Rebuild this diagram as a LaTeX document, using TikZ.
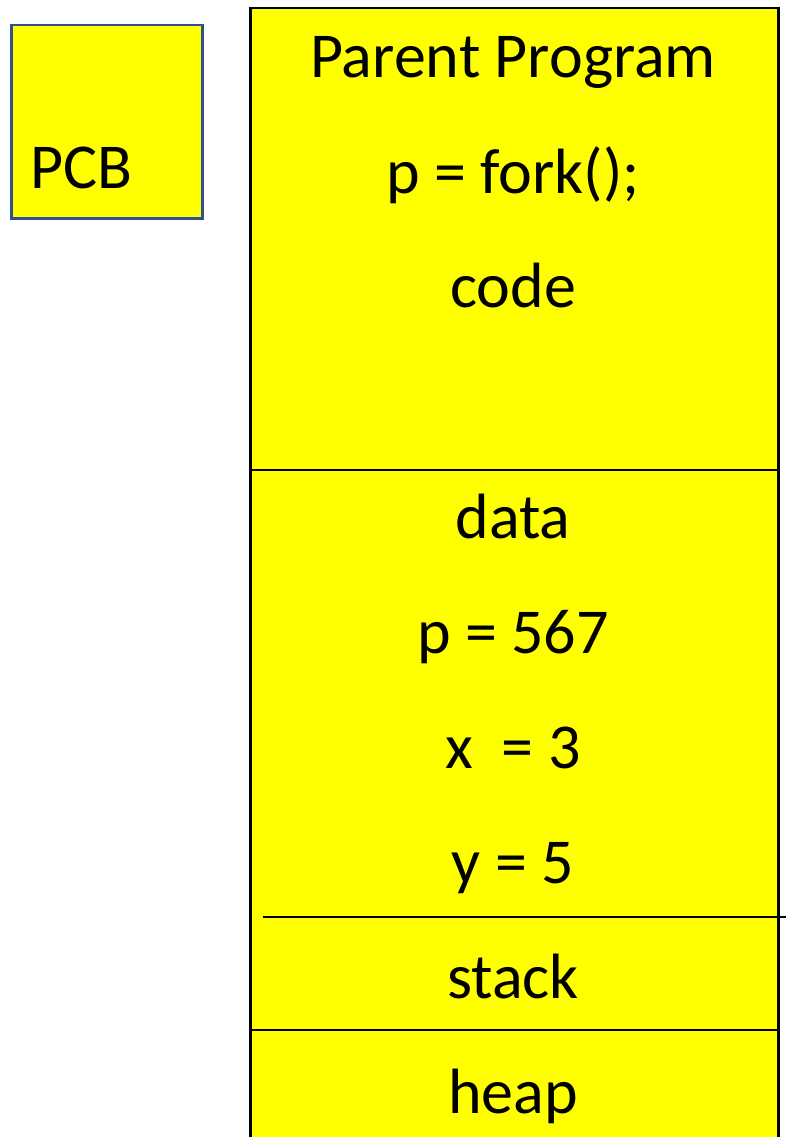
\documentclass[tikz,border=0pt]{standalone}
\usepackage{fontspec}
\setmainfont{Carlito}
\usetikzlibrary{positioning,calc}
\definecolor{pcbblue}{RGB}{47,82,143}
\definecolor{memyellow}{RGB}{255,255,0}

\begin{document}
\begin{tikzpicture}[x=1pt, y=-1pt,
    region/.style={draw, line width=2.5pt, fill=memyellow, inner sep=0pt, anchor=north west},
    cut/.style={draw, line width=2.5pt},
    lbl/.style={anchor=base, inner sep=0pt, font=\fontsize{64}{72}\selectfont}
]
    \useasboundingbox (0,0) rectangle (786,1137);

    % PCB
    \node[region, draw=pcbblue, minimum width=191pt, minimum height=193pt] (pcb) at (10,24) {};
    \node[lbl, anchor=base west] (pcblabel) at (30,188) {PCB};

    % Address space of the parent
    \node[region, minimum width=528pt, minimum height=1150pt] (proc) at (249,7) {};
    \coordinate (codeend) at (0,470);
    \coordinate (heaptop) at (0,1030);
    \coordinate (stackL) at (263,917);
    \coordinate (stackR) at (790,917);
    \draw[cut] (proc.west |- codeend) -- (proc.east |- codeend);
    \draw[cut] (stackL) -- (stackR);
    \draw[cut] (proc.west |- heaptop) -- (proc.east |- heaptop);

    % Texts
    \node[lbl] (title) at (513,78) {Parent Program};
    \node[lbl] (forkcall) at (513,193) {p = fork();};
    \node[lbl] (code) at (513,307) {code};
    \node[lbl] (data) at (513,538) {data};
    \node[lbl] (pval) at (513,653) {p = 567};
    \node[lbl] (xval) at (513,768) {x\ \ = 3};
    \node[lbl] (yval) at (513,883) {y = 5};
    \node[lbl] (stack) at (513,998) {stack};
    \node[lbl] (heap) at (513,1113) {heap};
\end{tikzpicture}
\end{document}
